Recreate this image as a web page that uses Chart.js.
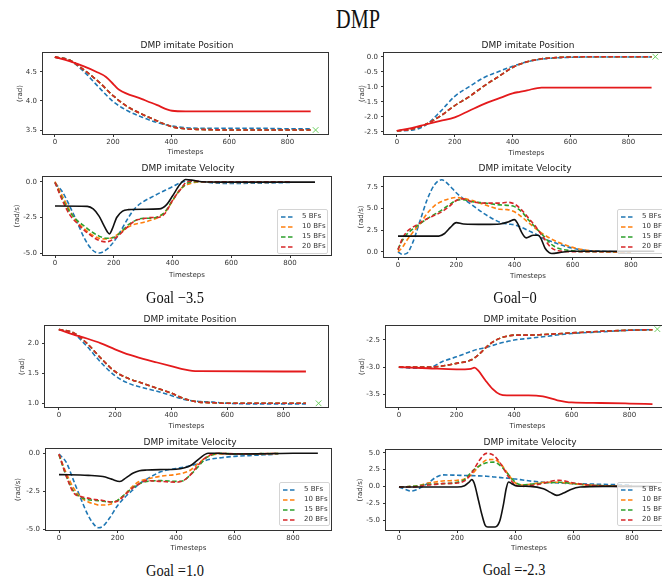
<!DOCTYPE html>
<html>
<head>
<meta charset="utf-8">
<script src="https://cdn.jsdelivr.net/npm/chart.js@4.4.1/dist/chart.umd.min.js"></script>
<style>
  body { margin: 0; background: #fff; }
  #fig { position: relative; width: 662px; height: 581px; overflow: hidden; background: #fff; }
  .abs { position: absolute; white-space: nowrap; }
  .main { font: 27px "Liberation Serif"; color: #111; transform: translate(-50%, -50%) scaleX(0.75); }
  .ptitle { font: 9px "DejaVu Sans"; color: #222; transform: translate(-50%, -50%); }
  .goal { font: 17px "Liberation Serif"; color: #111; transform: translate(-50%, -50%) scaleX(0.85); }
  .legend { background: rgba(255,255,255,0.8); border: 1px solid #d4d4d4; border-radius: 2px; box-sizing: border-box; }
  .legend .row { position: absolute; left: 0; height: 10px; line-height: 10px; font: 7px "DejaVu Sans"; color: #333; }
  .legend svg { position: absolute; left: 3px; top: 3px; }
  .legend span { position: absolute; left: 24px; top: 0; }
</style>
</head>
<body>
<div id="fig"></div>
<script>
const xTicks = [0, 200, 400, 600, 800];
const bfLabels = ['5 BFs', '10 BFs', '15 BFs', '20 BFs'];
const bfColors = ['#1f77b4', '#ff7f0e', '#2ca02c', '#d62728'];

// Goal -3.5
const posA_t = [0,50,100,150,200,250,300,350,400,450,500,600,700,800,880];
const posA_5 = [4.75,4.70,4.50,4.24,3.99,3.83,3.72,3.63,3.57,3.54,3.53,3.53,3.53,3.52,3.52];
const posA_bf = [4.75,4.70,4.53,4.33,4.09,3.90,3.77,3.66,3.56,3.52,3.51,3.50,3.50,3.50,3.50];
const posA_refT = [0,50,100,142,176,204,221,300,350,403,450,880];
const posA_ref = [4.75,4.68,4.59,4.50,4.41,4.27,4.19,4.03,3.93,3.83,3.82,3.82];
const posA_goal = [897, 3.5];

const velA_t = [0,25,50,75,100,125,150,175,200,225,250,275,300,325,350,375,400,425,450,475,500,550,600,700,800];
const velA_5 = [-0.1,-0.7,-1.7,-2.8,-3.95,-4.72,-4.98,-4.75,-4.2,-3.4,-2.5,-1.8,-1.4,-1.12,-0.85,-0.6,-0.35,-0.08,0.05,0.02,0,-0.1,-0.12,-0.1,-0.05];
const velA_10 = [0,-1.0,-2.0,-2.8,-3.3,-3.7,-3.95,-4.0,-3.85,-3.5,-3.15,-2.95,-2.85,-2.7,-2.5,-2.1,-1.35,-0.55,-0.2,-0.05,0,-0.05,-0.05,-0.05,-0.03];
const velA_15 = [-0.05,-1.2,-2.1,-2.7,-3.1,-3.5,-3.8,-3.95,-3.9,-3.5,-3.0,-2.7,-2.55,-2.55,-2.45,-2.1,-1.3,-0.6,-0.1,0,0,0,-0.02,-0.02,-0.02];
const velA_20 = [-0.05,-1.3,-2.3,-2.9,-3.4,-3.8,-4.1,-4.2,-4.0,-3.6,-3.1,-2.7,-2.6,-2.5,-2.5,-2.2,-1.3,-0.6,0,0.05,0,0,0,0,0];
const velA_refT = [0,110,130,150,165,178,185,195,210,230,250,300,355,380,400,425,445,470,500,600,700,800,885];
const velA_ref = [-1.7,-1.72,-1.9,-2.4,-3.0,-3.5,-3.65,-3.3,-2.5,-2.05,-1.95,-1.92,-1.9,-1.6,-1.0,-0.2,0.15,0.1,0,-0.03,-0.03,-0.03,-0.03];

// Goal 0
const posB_t = [0,50,100,150,200,250,300,350,400,450,500,550,600,700,800,880];
const posB_5 = [-2.47,-2.45,-2.28,-1.83,-1.32,-1.00,-0.70,-0.50,-0.32,-0.17,-0.08,-0.04,-0.02,-0.01,-0.01,-0.01];
const posB_bf = [-2.47,-2.42,-2.25,-1.98,-1.63,-1.33,-0.98,-0.67,-0.36,-0.17,-0.07,-0.03,-0.01,0,0,0];
const posB_refT = [0,50,100,150,200,250,300,350,400,425,450,500,880];
const posB_ref = [-2.47,-2.38,-2.26,-2.14,-2.02,-1.80,-1.58,-1.40,-1.22,-1.17,-1.12,-1.03,-1.03];
const posB_goal = [893, 0.0];

const velB_t = [0,15,30,50,75,100,125,150,175,200,225,250,300,350,375,400,425,450,475,500,525,550,600,650,700,750,800];
const velB_5 = [0,-0.3,-0.2,1.0,3.5,6.0,7.7,8.3,7.7,6.8,6.1,5.5,4.3,3.4,3.2,3.1,2.8,2.4,2.0,1.5,1.2,0.9,0.4,0.15,0.05,0,0];
const velB_10 = [0,0.5,1.3,2.2,3.2,4.4,5.3,5.8,6.1,6.25,6.15,5.95,5.4,4.9,4.85,4.6,4.0,3.3,2.6,2.0,1.5,1.1,0.5,0.15,0,-0.05,-0.05];
const velB_15 = [0.3,1.3,2.0,2.6,3.2,3.8,4.3,4.8,5.4,5.9,6.0,5.8,5.6,5.4,5.35,5.2,4.6,3.6,2.7,1.8,0.9,0.4,0.1,0,0,0,0];
const velB_20 = [0.2,1.5,2.3,2.8,3.3,3.8,4.2,4.6,5.2,5.9,6.1,5.8,5.6,5.6,5.7,5.5,4.8,3.8,2.8,1.6,0.5,0.1,0,0,0,0,0];
const velB_refT = [0,140,160,180,200,225,300,350,380,400,410,425,440,465,482,491,505,519,528,556,590,700,880];
const velB_ref = [1.8,1.8,2.1,2.8,3.35,3.2,3.15,3.2,3.45,3.7,3.3,2.2,1.6,1.9,1.9,1.5,0.4,-0.1,-0.2,-0.1,0.05,0.05,0.05];

// Goal 1.0
const posC_t = [0,50,100,150,200,250,300,350,400,450,500,550,600,700,800,880];
const posC_5 = [2.23,2.17,1.95,1.68,1.46,1.33,1.26,1.20,1.13,1.06,1.03,1.02,1.00,0.99,0.99,0.99];
const posC_bf = [2.23,2.18,2.00,1.75,1.53,1.41,1.33,1.25,1.17,1.07,1.02,1.01,1.00,1.00,1.00,1.00];
const posC_refT = [0,50,100,150,200,250,300,350,400,450,475,500,880];
const posC_ref = [2.23,2.15,2.08,2.00,1.90,1.81,1.74,1.68,1.62,1.56,1.54,1.535,1.53];
const posC_goal = [925, 1.0];

const velC_t = [0,25,50,75,100,125,135,150,175,200,225,250,275,300,350,400,425,450,475,500,525,550,600,650,700,750];
const velC_5 = [-0.05,-0.6,-1.8,-3.0,-4.1,-4.8,-4.9,-4.8,-4.2,-3.45,-2.9,-2.45,-2.0,-1.7,-1.2,-1.0,-0.92,-0.82,-0.68,-0.48,-0.36,-0.3,-0.2,-0.15,-0.1,-0.05];
const velC_10 = [-0.1,-1.3,-2.3,-2.9,-3.2,-3.35,-3.4,-3.4,-3.35,-3.1,-2.7,-2.2,-1.85,-1.7,-1.5,-1.4,-1.3,-1.1,-0.7,-0.3,-0.1,-0.05,-0.05,-0.05,-0.03,-0.02];
const velC_15 = [-0.1,-1.5,-2.5,-2.9,-3.05,-3.1,-3.12,-3.15,-3.2,-3.1,-2.7,-2.3,-2.0,-1.85,-1.8,-1.85,-1.8,-1.4,-0.9,-0.35,-0.1,0,-0.03,-0.03,-0.02,-0.01];
const velC_20 = [-0.05,-1.5,-2.6,-2.85,-2.95,-3.05,-3.07,-3.1,-3.2,-3.15,-2.75,-2.3,-2.0,-1.8,-1.85,-1.9,-1.8,-1.4,-0.8,-0.3,-0.05,0,-0.03,-0.03,-0.02,-0.01];
const velC_refT = [0,100,150,180,208,230,254,275,300,350,400,430,453,481,510,540,600,700,800,885];
const velC_ref = [-1.4,-1.45,-1.53,-1.7,-1.86,-1.6,-1.3,-1.15,-1.1,-1.07,-1.05,-0.95,-0.77,-0.33,0,0,-0.05,-0.03,0,0];

// Goal -2.3
const posD_t = [0,50,100,150,200,250,275,300,325,350,375,400,450,500,600,700,800,880];
const posD_5 = [-3.0,-3.02,-3.02,-2.9,-2.81,-2.71,-2.67,-2.64,-2.6,-2.56,-2.53,-2.5,-2.47,-2.44,-2.38,-2.35,-2.32,-2.31];
const posD_bf = [-3.0,-3.0,-3.0,-2.98,-2.93,-2.87,-2.78,-2.65,-2.54,-2.47,-2.43,-2.41,-2.41,-2.4,-2.37,-2.34,-2.32,-2.31];
const posD_refT = [0,100,200,250,262,275,300,325,350,375,450,500,550,600,700,800,880];
const posD_ref = [-3.0,-3.02,-3.04,-3.03,-3.01,-3.06,-3.24,-3.40,-3.50,-3.52,-3.52,-3.54,-3.61,-3.65,-3.66,-3.67,-3.68];
const posD_goal = [897, -2.3];

const velD_t = [0,25,40,60,100,125,150,200,225,250,275,300,325,350,375,400,425,450,500,525,550,600,650,700,750,800];
const velD_5 = [-0.1,-0.5,-0.7,-0.5,0.5,1.3,1.7,1.65,1.62,1.6,1.55,1.5,1.4,1.3,1.2,1.1,0.95,0.8,0.6,0.55,0.5,0.4,0.35,0.3,0.25,0.2];
const velD_10 = [-0.1,-0.05,0,0.05,0.5,0.65,0.8,0.9,1.1,1.8,3.0,3.9,4.0,3.3,1.8,0.5,0.2,0.3,0.6,0.62,0.6,0.4,0.2,0.1,0.05,0];
const velD_15 = [-0.1,-0.05,0,0.05,0.3,0.35,0.4,0.6,1.0,2.2,3.0,3.5,3.6,3.0,1.8,0.6,0.2,0.3,0.5,0.55,0.6,0.4,0.2,0.1,0.05,0];
const velD_20 = [-0.1,-0.1,-0.1,-0.05,0.2,0.3,0.4,0.5,0.8,2.0,3.8,4.9,4.6,3.3,1.5,0.2,0.0,0.1,0.5,0.8,0.9,0.5,0.2,0.05,0,0];
const velD_refT = [0,200,225,240,250,258,273,284,296,305,330,340,347,359,368,376,387,405,450,496,520,542,565,588,622,700,880];
const velD_ref = [-0.1,-0.1,0.1,0.6,1.0,0.5,-2.1,-4.1,-5.8,-6.05,-6.05,-5.7,-5.0,-2.6,-0.35,0.65,0.4,0.05,0,-0.35,-0.9,-1.34,-1.0,-0.5,-0.1,0,0];

const fig = document.getElementById('fig');
const zip = (t, v) => t.map((x, i) => ({ x, y: v[i] }));

function dashed(t, v, color) {
  return { data: zip(t, v), borderColor: color, borderWidth: 1.6, borderDash: [4.5, 2.5],
    pointRadius: 0, cubicInterpolationMode: 'monotone', fill: false };
}
function solid(t, v, color, w) {
  return { data: zip(t, v), borderColor: color, borderWidth: w, pointRadius: 0,
    cubicInterpolationMode: 'monotone', fill: false };
}
function goalMark(g) {
  return { data: [{ x: g[0], y: g[1] }], showLine: false, pointStyle: 'crossRot', pointRadius: 4,
    borderColor: '#6ccf5f', borderWidth: 1, backgroundColor: '#6ccf5f' };
}
// black drawn on top, blue at the bottom (first dataset is drawn last)
function posSets(t, v5, vbf, refT, ref, goal) {
  return [goalMark(goal), solid(refT, ref, '#e41a1c', 1.8),
    dashed(t, vbf, bfColors[3]), dashed(t, vbf, bfColors[2]), dashed(t, vbf, bfColors[1]), dashed(t, v5, bfColors[0])];
}
function velSets(t, v5, v10, v15, v20, refT, ref) {
  return [solid(refT, ref, '#111', 1.6),
    dashed(t, v20, bfColors[3]), dashed(t, v15, bfColors[2]), dashed(t, v10, bfColors[1]), dashed(t, v5, bfColors[0])];
}

function addText(cls, text, x, y) {
  const d = document.createElement('div');
  d.className = 'abs ' + cls;
  d.style.left = x + 'px';
  d.style.top = y + 'px';
  d.textContent = text;
  fig.appendChild(d);
}

function addLegend(x, y, w, h) {
  const box = document.createElement('div');
  box.className = 'abs legend';
  box.style.cssText += `left:${x}px;top:${y}px;width:${w}px;height:${h}px;z-index:2;`;
  bfLabels.forEach((lab, i) => {
    const row = document.createElement('div');
    row.className = 'row';
    row.style.top = (1.5 + i * 10) + 'px';
    row.style.width = w + 'px';
    row.innerHTML = `<svg width="14" height="4"><line x1="0" y1="2" x2="14" y2="2" stroke="${bfColors[i]}" stroke-width="1.6" stroke-dasharray="4.5 2.5"/></svg><span>${lab}</span>`;
    box.appendChild(row);
  });
  fig.appendChild(box);
}

const frame = {
  id: 'frame',
  afterDraw(chart) {
    const { ctx, chartArea: a } = chart;
    ctx.save();
    ctx.strokeStyle = '#333';
    ctx.lineWidth = 1;
    ctx.strokeRect(a.left - 0.5, a.top - 0.5, a.right - a.left + 1, a.bottom - a.top + 1);
    ctx.restore();
  }
};

function addPanel(p) {
  const padTop = 8, padRight = 2;
  const yW = Math.round(p.left - p.yTitleX + 4.2);
  const xH = Math.round(p.xTitleDy + 4.2);
  const w = yW + (p.right - p.left) + padRight;
  const h = padTop + (p.bottom - p.top) + xH;
  const pxStep = (p.x800 - p.x0) / 800;
  const pxUnit = (p.yB[1] - p.yA[1]) / (p.yA[0] - p.yB[0]);
  const canvas = document.createElement('canvas');
  canvas.width = w;
  canvas.height = h;
  canvas.className = 'abs';
  canvas.style.left = (p.left - yW) + 'px';
  canvas.style.top = (p.top - padTop) + 'px';
  canvas.style.width = w + 'px';
  canvas.style.height = h + 'px';
  fig.appendChild(canvas);

  const tickFont = { family: 'DejaVu Sans', size: 7 };
  const grid = { display: true, drawOnChartArea: false, drawTicks: true, tickLength: 3, color: '#333' };
  new Chart(canvas, {
    type: 'line',
    data: { datasets: p.datasets },
    options: {
      responsive: false,
      animation: false,
      events: [],
      layout: { padding: { top: padTop, right: padRight, left: 0, bottom: 0 } },
      plugins: { legend: { display: false }, tooltip: { enabled: false } },
      scales: {
        x: {
          type: 'linear',
          min: (p.left - p.x0) / pxStep,
          max: (p.right - p.x0) / pxStep,
          afterBuildTicks: s => { s.ticks = xTicks.map(v => ({ value: v })); },
          afterFit: s => { s.height = xH; },
          ticks: { font: tickFont, color: '#333', padding: 1, maxRotation: 0, callback: v => String(v) },
          grid: grid,
          border: { display: false },
          title: { display: true, text: 'Timesteps', font: tickFont, color: '#333', padding: 0 }
        },
        y: {
          type: 'linear',
          min: p.yB[0] - (p.bottom - p.yB[1]) / pxUnit,
          max: p.yA[0] + (p.yA[1] - p.top) / pxUnit,
          afterBuildTicks: s => { s.ticks = p.yTicks.map(v => ({ value: v })); },
          afterFit: s => { s.width = yW; },
          ticks: { font: tickFont, color: '#333', padding: 3, callback: v => v.toFixed(1) },
          grid: grid,
          border: { display: false },
          title: { display: true, text: p.yTitle, font: tickFont, color: '#333', padding: 0 }
        }
      }
    },
    plugins: [frame]
  });
  addText('ptitle', p.title, p.titleX, p.titleY);
}

addText('main', 'DMP', 358, 19);

addPanel({ left: 43, top: 53, right: 331, bottom: 134, x0: 55, x800: 290, yA: [4.5, 71.7], yB: [3.5, 130],
  yTicks: [3.5, 4.0, 4.5], yTitle: '(rad)', yTitleX: 20, xTitleDy: 18,
  title: 'DMP imitate Position', titleX: 187, titleY: 45,
  datasets: posSets(posA_t, posA_5, posA_bf, posA_refT, posA_ref, posA_goal) });

addPanel({ left: 384, top: 53, right: 672, bottom: 134, x0: 397, x800: 631, yA: [0, 56.7], yB: [-2.5, 131.7],
  yTicks: [-2.5, -2.0, -1.5, -1.0, -0.5, 0.0], yTitle: '(rad)', yTitleX: 362, xTitleDy: 19,
  title: 'DMP imitate Position', titleX: 528, titleY: 45,
  datasets: posSets(posB_t, posB_5, posB_bf, posB_refT, posB_ref, posB_goal) });

addPanel({ left: 43, top: 177, right: 331, bottom: 255, x0: 55, x800: 290, yA: [0, 181.7], yB: [-5, 253.3],
  yTicks: [-5.0, -2.5, 0.0], yTitle: '(rad/s)', yTitleX: 17, xTitleDy: 20,
  title: 'DMP imitate Velocity', titleX: 188, titleY: 168,
  datasets: velSets(velA_t, velA_5, velA_10, velA_15, velA_20, velA_refT, velA_ref) });

addPanel({ left: 384, top: 177, right: 672, bottom: 257, x0: 398, x800: 631, yA: [7.5, 186.7], yB: [0, 251.7],
  yTicks: [0.0, 2.5, 5.0, 7.5], yTitle: '(rad/s)', yTitleX: 361, xTitleDy: 19,
  title: 'DMP imitate Velocity', titleX: 525, titleY: 168,
  datasets: velSets(velB_t, velB_5, velB_10, velB_15, velB_20, velB_refT, velB_ref) });

addPanel({ left: 45, top: 326, right: 331, bottom: 407, x0: 59, x800: 286, yA: [2, 343.3], yB: [1, 403.3],
  yTicks: [1.0, 1.5, 2.0], yTitle: '(rad)', yTitleX: 22, xTitleDy: 19,
  title: 'DMP imitate Position', titleX: 190, titleY: 319,
  datasets: posSets(posC_t, posC_5, posC_bf, posC_refT, posC_ref, posC_goal) });

addPanel({ left: 386, top: 326, right: 672, bottom: 407, x0: 399, x800: 632, yA: [-2.5, 340], yB: [-3.5, 394.3],
  yTicks: [-3.5, -3.0, -2.5], yTitle: '(rad)', yTitleX: 362, xTitleDy: 19,
  title: 'DMP imitate Position', titleX: 530, titleY: 319,
  datasets: posSets(posD_t, posD_5, posD_bf, posD_refT, posD_ref, posD_goal) });

addPanel({ left: 46, top: 449, right: 331, bottom: 530, x0: 59, x800: 293, yA: [0, 453.3], yB: [-5, 529.3],
  yTicks: [-5.0, -2.5, 0.0], yTitle: '(rad/s)', yTitleX: 18, xTitleDy: 18,
  title: 'DMP imitate Velocity', titleX: 190, titleY: 442,
  datasets: velSets(velC_t, velC_5, velC_10, velC_15, velC_20, velC_refT, velC_ref) });

addPanel({ left: 386, top: 450, right: 672, bottom: 530, x0: 399, x800: 632, yA: [5, 452.7], yB: [-5, 520],
  yTicks: [-5.0, -2.5, 0.0, 2.5, 5.0], yTitle: '(rad/s)', yTitleX: 360, xTitleDy: 18,
  title: 'DMP imitate Velocity', titleX: 530, titleY: 442,
  datasets: velSets(velD_t, velD_5, velD_10, velD_15, velD_20, velD_refT, velD_ref) });

addLegend(277, 209, 51, 45);
addLegend(617, 209, 60, 45);
addLegend(279, 482, 51, 44);
addLegend(617, 482, 60, 44);

addText('goal', 'Goal −3.5', 175, 298);
addText('goal', 'Goal−0', 515, 298);
addText('goal', 'Goal =1.0', 175, 571);
addText('goal', 'Goal =-2.3', 514, 570);
</script>
</body>
</html>
